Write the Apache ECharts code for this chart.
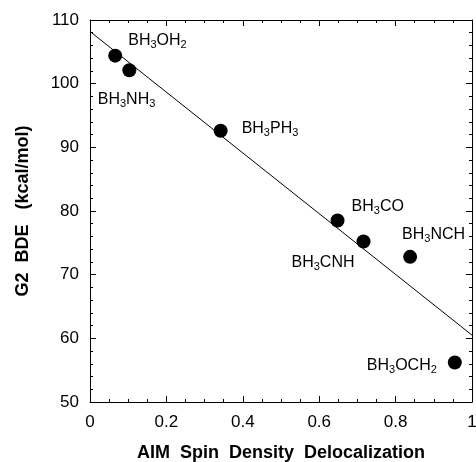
<!DOCTYPE html>
<html lang="en">

<head>
    <meta charset="UTF-8">
    <title>G2 BDE vs AIM spin density</title>
    <script src="https://cdn.jsdelivr.net/npm/echarts@6/dist/echarts.min.js"></script>
    <style>
        body { margin: 0; background: #fff; }
        #chart { width: 476px; height: 462px; }
    </style>
</head>

<body>
    <div id="chart"></div>
    <script>
        // data
        var species = ['BH3OH2', 'BH3NH3', 'BH3PH3', 'BH3CO', 'BH3CNH', 'BH3NCH', 'BH3OCH2'];
        var spinDeloc = [0.066, 0.103, 0.342, 0.648, 0.716, 0.838, 0.955];
        var bde = [104.4, 102.1, 92.6, 78.5, 75.2, 72.8, 56.2];
        var fitLine = [[0, 108.2], [1, 60.5]];
        var xTicks = ['0', '0.2', '0.4', '0.6', '0.8', '1'];

        // label text with subscripts: BH{s|3}...
        var labelText = {
            BH3OH2: 'BH{s|3}OH{s|2}',
            BH3NH3: 'BH{s|3}NH{s|3}',
            BH3PH3: 'BH{s|3}PH{s|3}',
            BH3CO: 'BH{s|3}CO',
            BH3CNH: 'BH{s|3}CNH',
            BH3NCH: 'BH{s|3}NCH',
            BH3OCH2: 'BH{s|3}OCH{s|2}'
        };
        // where each label sits relative to its dot
        var labelPos = {
            BH3OH2: { position: 'right', offset: [1, -15] },
            BH3NH3: { position: 'left', offset: [38, 29] },
            BH3PH3: { position: 'right', offset: [9, -2] },
            BH3CO: { position: 'right', offset: [2, -14] },
            BH3CNH: { position: 'left', offset: [3, 21] },
            BH3NCH: { position: 'right', offset: [-20, -22] },
            BH3OCH2: { position: 'left', offset: [-6, 3] }
        };

        var font = 'Liberation Sans';
        var points = species.map(function (name, i) {
            var lp = labelPos[name];
            return {
                name: name,
                value: [spinDeloc[i], bde[i]],
                label: {
                    show: true,
                    position: lp.position,
                    offset: lp.offset,
                    formatter: labelText[name],
                    fontFamily: font,
                    fontSize: 16,
                    color: '#000',
                    lineHeight: 20,
                    rich: {
                        s: { fontSize: 11, fontFamily: font, color: '#000', verticalAlign: 'bottom', lineHeight: 2 }
                    }
                }
            };
        });

        var axisLine = { show: true, onZero: false, lineStyle: { color: '#000', width: 1 } };
        var axisTick = { show: true, inside: true, length: 6, lineStyle: { color: '#000', width: 1 } };

        function minor(n) {
            return { show: true, splitNumber: n, length: 3, lineStyle: { color: '#000', width: 1 } };
        }

        var chart = echarts.init(document.getElementById('chart'));
        chart.setOption({
            animation: false,
            grid: { left: 90, top: 20, width: 382, height: 382, containLabel: false, outerBoundsMode: 'none' },
            xAxis: [
                {
                    type: 'value', position: 'bottom', min: 0, max: 1, interval: 0.2,
                    axisLine: axisLine, axisTick: axisTick, minorTick: minor(4), splitLine: { show: false },
                    axisLabel: {
                        margin: 12, fontFamily: font, fontSize: 17, color: '#000',
                        formatter: function (v) { return xTicks[Math.round(v / 0.2)]; }
                    },
                    name: 'AIM  Spin  Density  Delocalization',
                    nameLocation: 'middle', nameGap: 42,
                    nameTextStyle: { fontFamily: font, fontSize: 18, fontWeight: 'bold', color: '#000' }
                },
                {
                    type: 'value', position: 'top', min: 0, max: 1, interval: 0.2,
                    axisLine: axisLine, axisTick: axisTick, minorTick: minor(4), splitLine: { show: false },
                    axisLabel: { show: false }
                }
            ],
            yAxis: [
                {
                    type: 'value', position: 'left', min: 50, max: 110, interval: 10,
                    axisLine: axisLine, axisTick: axisTick, minorTick: minor(5), splitLine: { show: false },
                    axisLabel: { margin: 11, fontFamily: font, fontSize: 17, color: '#000' },
                    name: 'G2  BDE   (kcal/mol)',
                    nameLocation: 'middle', nameGap: 58, nameRotate: 90,
                    nameTextStyle: { fontFamily: font, fontSize: 18, fontWeight: 'bold', color: '#000' }
                },
                {
                    type: 'value', position: 'right', min: 50, max: 110, interval: 10,
                    axisLine: axisLine, axisTick: axisTick, minorTick: minor(5), splitLine: { show: false },
                    axisLabel: { show: false }
                }
            ],
            series: [
                {
                    type: 'line',
                    data: fitLine,
                    showSymbol: false,
                    symbol: 'none',
                    lineStyle: { color: '#000', width: 1 },
                    silent: true
                },
                {
                    type: 'scatter',
                    data: points,
                    symbol: 'circle',
                    symbolSize: 14,
                    itemStyle: { color: '#000', opacity: 1 }
                }
            ]
        });
    </script>
</body>

</html>
